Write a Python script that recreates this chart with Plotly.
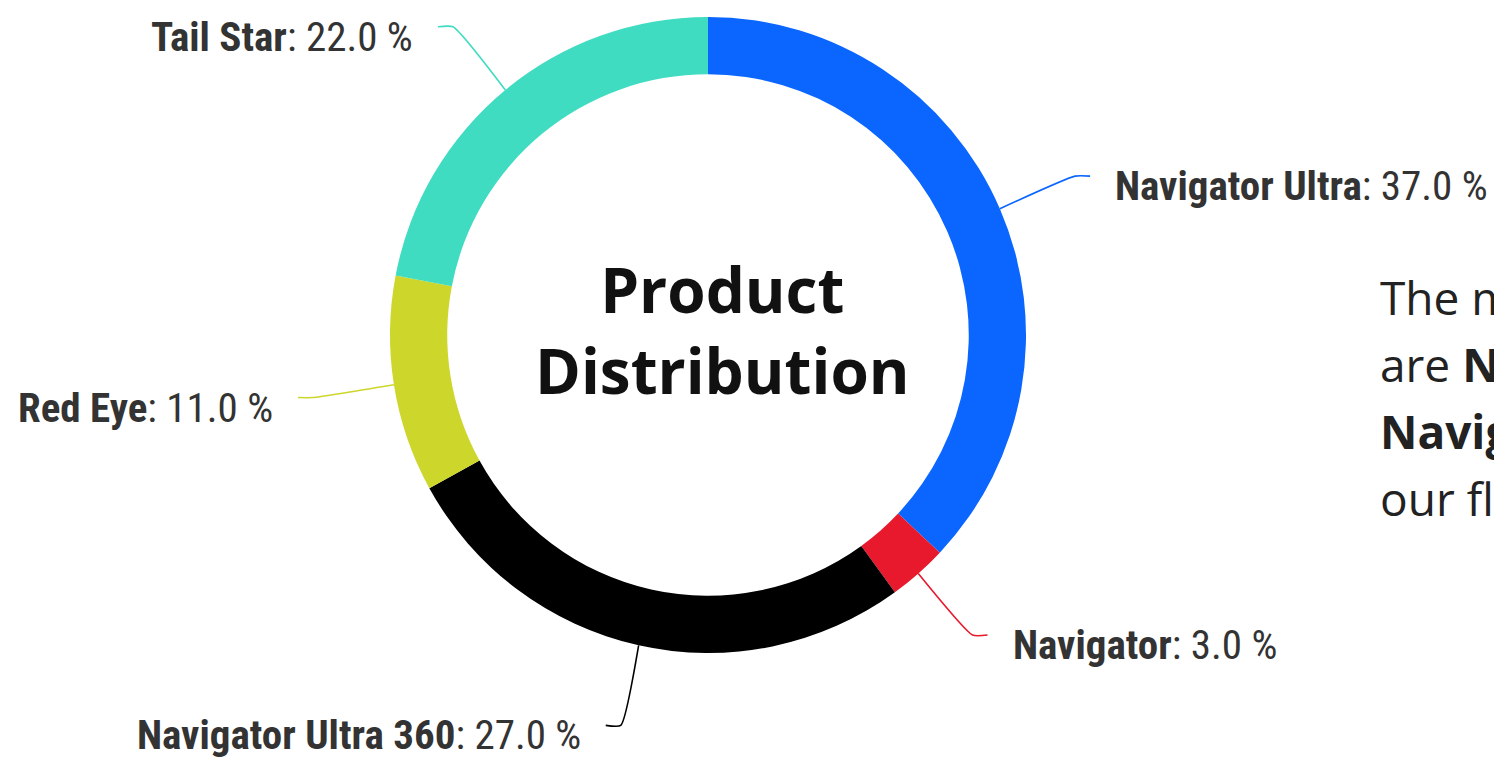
import math
import plotly.graph_objects as go

# ---------------- data ----------------
labels = ["Navigator Ultra", "Navigator", "Navigator Ultra 360", "Red Eye", "Tail Star"]
values = [37.0, 3.0, 27.0, 11.0, 22.0]
colors = ["#0A66FF", "#E8192C", "#000000", "#CDD62A", "#3FDCC2"]
center_title = ["Product", "Distribution"]
side_text = [
    "The most popular products",
    "are <b>Navigator Ultra</b> and",
    "<b>Navigator Ultra 360</b>,",
    "our flagship models.",
]

# ---------------- layout constants ----------------
W, H = 1494, 760
CX, CY, R = 708, 335, 318
HOLE = 0.82
LABEL_R = 400
LABEL_FONT = "Roboto Condensed, Liberation Sans Narrow, Roboto, sans-serif"

fig = go.Figure()

fig.add_trace(go.Pie(
    labels=labels, values=values, sort=False, direction="clockwise", rotation=0,
    hole=HOLE, textinfo="none", showlegend=False,
    marker=dict(colors=colors, line=dict(width=0)),
    domain=dict(x=[(CX - R) / W, (CX + R) / W], y=[(H - CY - R) / H, (H - CY + R) / H]),
    hovertemplate="%{label}: %{percent:.1%}<extra></extra>",
))

total = sum(values)
annotations = []
cum = 0.0
for name, v, col in zip(labels, values, colors):
    mid = (cum + v / 2) / total
    cum += v
    th = 2 * math.pi * mid
    ux, uy = math.sin(th), -math.cos(th)
    ex, ey = CX + R * ux, CY + R * uy
    kx, ky = CX + LABEL_R * ux, CY + LABEL_R * uy
    d = 1 if ux >= 0 else -1
    tx = kx + d * 15
    fig.add_trace(go.Scatter(
        x=[ex, kx, tx], y=[ey, ky, ky], mode="lines",
        line=dict(color=col, width=1.6, shape="spline", smoothing=0.5),
        hoverinfo="skip", showlegend=False, xaxis="x", yaxis="y",
    ))
    pct = v / total * 100
    annotations.append(dict(
        x=tx + d * 23, y=ky + 10, xref="x", yref="y",
        xanchor="left" if d > 0 else "right", yanchor="middle",
        text=f"<b>{name}</b>: {pct:.1f} %", showarrow=False,
        font=dict(family=LABEL_FONT, size=41, color="#333333"),
    ))

# center title (one block, two lines)
annotations.append(dict(
    x=722, y=329, xref="x", yref="y", xanchor="center", yanchor="middle",
    text="<br>".join(f"<b>{line}</b>" for line in center_title), showarrow=False,
    font=dict(family="Open Sans, Noto Sans, sans-serif", size=62, color="#111111"),
))

# side text (runs off the page on the right)
for i, line in enumerate(side_text):
    annotations.append(dict(
        x=1378, y=297 + i * 67, xref="x", yref="y", xanchor="left", yanchor="middle",
        text=line, showarrow=False,
        font=dict(family="Open Sans, Noto Sans, sans-serif", size=46, color="#222222"),
    ))

fig.update_layout(
    width=W, height=H,
    margin=dict(l=0, r=0, t=0, b=0),
    paper_bgcolor="white", plot_bgcolor="rgba(0,0,0,0)",
    xaxis=dict(range=[0, W], visible=False, fixedrange=True, domain=[0, 1]),
    yaxis=dict(range=[H, 0], visible=False, fixedrange=True, domain=[0, 1]),
    annotations=annotations,
    showlegend=False,
)

fig.write_html(
    "out.html",
    config={"displayModeBar": False},
    post_script="document.body.style.margin='0';document.body.style.overflow='hidden';",
)
